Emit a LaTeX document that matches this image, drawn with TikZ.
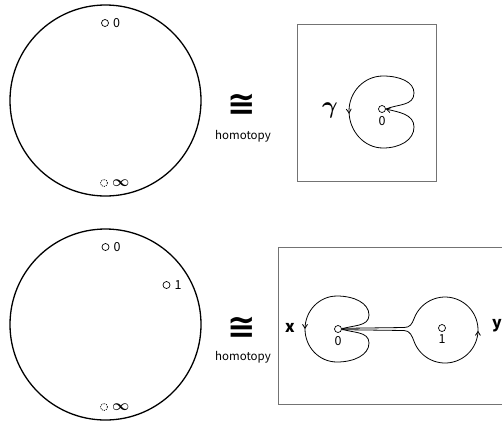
\documentclass[tikz,border=0pt]{standalone}
\usepackage{amsmath}
\usepackage{graphicx}
\usepackage{fontspec}
\setmainfont{Noto Sans CJK JP}
\newfontfamily\symfont{DejaVu Sans}
\usetikzlibrary{positioning,arrows.meta,decorations.markings}

\begin{document}
\begin{tikzpicture}[
        x=1pt, y=-1pt,
        node distance=4pt and 5pt,
        sphere/.style={draw, circle, line width=1.3pt, minimum size=191pt, inner sep=0pt},
        frame/.style={draw=black!55, line width=0.8pt, inner sep=0pt},
        hole/.style={draw, circle, line width=0.7pt, minimum size=7pt, inner sep=0pt},
        infhole/.style={hole, dash pattern=on 1pt off 1pt},
        lbl/.style={inner sep=0pt, font=\fontsize{12.5}{12.5}\selectfont},
        homot/.style={inner sep=0pt, font=\fontsize{11.5}{11.5}\selectfont},
        congs/.style={inner sep=0pt, font=\fontsize{34}{34}\symfont\bfseries},
        gen/.style={inner sep=0pt, font=\fontsize{16}{16}\selectfont\bfseries},
        barb/.style={-{Straight Barb[length=4pt,width=5pt]}},
        midarr/.style={postaction={decorate}, decoration={markings,
                mark=at position 0.5 with {\arrow{Straight Barb[length=4pt,width=5pt]}}}},
        loopline/.style={line width=0.8pt},
    ]
    \useasboundingbox (0,0) rectangle (502,421);

    % --- Rząd 1 ---
    \node[sphere] (sphA) at (105.5,100.5) {};
    \node[hole] (zeroA) at (105,23) {};
    \node[lbl, right=4pt of zeroA] (zeroAl) {0};
    \node[infhole] (infA) at (104,183) {};
    \node[lbl, right=4pt of infA] (infAl) {\scalebox{1.25}{$\boldsymbol{\infty}$}};

    \node[congs] (congA) at (242,105) {≅};
    \node[homot] (homA) at (243,136) {homotopy};

    \node[frame, minimum width=139pt, minimum height=157pt] (boxA) at (366.5,102.5) {};
    \node[hole] (qA) at (382,109) {};
    \node[lbl, below=3pt of qA] (qAl) {0};
    \node[inner sep=0pt] (gam) at (330,110) {\scalebox{2.4}{$\boldsymbol{\gamma}$}};

    % --- Rząd 2 ---
    \node[sphere] (sphB) at (105.5,324.5) {};
    \node[hole] (zeroB) at (105.5,247) {};
    \node[lbl, right=4pt of zeroB] (zeroBl) {0};
    \node[hole] (oneB) at (166.5,285) {};
    \node[lbl, right=4pt of oneB] (oneBl) {1};
    \node[infhole] (infB) at (104,407) {};
    \node[lbl, right=4pt of infB] (infBl) {\scalebox{1.25}{$\boldsymbol{\infty}$}};

    \node[congs] (congB) at (242,328) {≅};
    \node[homot] (homB) at (243,357) {homotopy};

    \node[frame, minimum width=225pt, minimum height=157pt] (boxB) at (390.5,325.5) {};
    \node[hole] (qB0) at (338,329) {};
    \node[lbl, below=3pt of qB0] (qB0l) {0};
    \node[hole] (qB1) at (442,328) {};
    \node[lbl, below=3pt of qB1] (qB1l) {1};
    \node[gen] (genx) at (290,328) {x};
    \node[gen] (geny) at (497,326) {y};

    % --- Pętle ---
    \draw[loopline, midarr, barb] (qA.east) .. controls (398,104) and (414,106) .. (414,93)
        .. controls (414,82) and (400,76) .. (383,76)
        .. controls (364,76) and (349,92) .. (349,111)
        .. controls (349,131) and (364,148) .. (383,148)
        .. controls (400,148) and (414,140) .. (414,127)
        .. controls (414,114) and (398,112) .. (qA.east);

    \draw[loopline, midarr] (qB0.east) .. controls (352,325) and (369,327) .. (369,315)
        .. controls (369,303) and (354,296) .. (337,296)
        .. controls (319,296) and (305,311) .. (305,329)
        .. controls (305,347) and (319,362) .. (337,362)
        .. controls (354,362) and (369,355) .. (369,343)
        .. controls (369,331) and (352,333) .. (qB0.east);

    \draw[loopline, midarr] (qB0.-10) -- (404,330.5)
        .. controls (410,330.5) and (412,336) .. (414,341.3)
        arc[start angle=160, end angle=-160, radius=33]
        .. controls (412,324) and (410,327.5) .. (404,327.5) -- (qB0.10);
\end{tikzpicture}
\end{document}
